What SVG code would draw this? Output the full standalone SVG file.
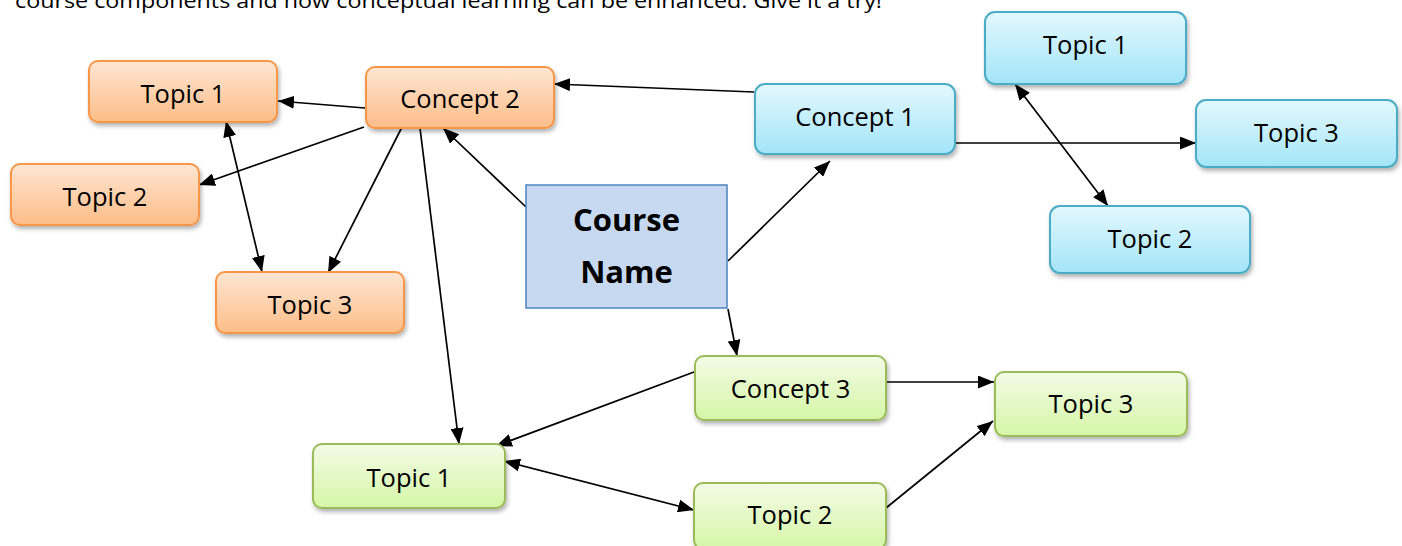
<svg xmlns="http://www.w3.org/2000/svg" width="1402" height="546" viewBox="0 0 1402 546">
<defs>
<style>
.lbl{font-family:"Open Sans","Liberation Sans",sans-serif;font-size:25.5px;fill:#000;text-anchor:middle}
.big{font-family:"Open Sans","Liberation Sans",sans-serif;font-size:31px;font-weight:bold;fill:#000;text-anchor:middle}
.top{font-family:"Open Sans","Liberation Sans",sans-serif;font-size:20px;fill:#000}
.or{fill:url(#gOr);stroke:#f79646;stroke-width:2;filter:url(#sh)}
.bl{fill:url(#gBl);stroke:#4bacc6;stroke-width:2;filter:url(#sh)}
.gr{fill:url(#gGr);stroke:#9bbb59;stroke-width:2;filter:url(#sh)}
.ln{stroke:#000;stroke-width:1.7;fill:none;marker-end:url(#ah)}
.dl{stroke:#000;stroke-width:1.7;fill:none;marker-end:url(#ah);marker-start:url(#ah)}
</style>
<linearGradient id="gOr" x1="0" y1="0" x2="0" y2="1"><stop offset="0" stop-color="#ffe6d3"/><stop offset="1" stop-color="#fdbd88"/></linearGradient>
<linearGradient id="gBl" x1="0" y1="0" x2="0" y2="1"><stop offset="0" stop-color="#e3f8fe"/><stop offset="1" stop-color="#a3e5f8"/></linearGradient>
<linearGradient id="gGr" x1="0" y1="0" x2="0" y2="1"><stop offset="0" stop-color="#f3fbe6"/><stop offset="1" stop-color="#d5f6a6"/></linearGradient>
<filter id="sh" x="-10%" y="-20%" width="125%" height="150%"><feDropShadow dx="1.5" dy="3" stdDeviation="2" flood-color="#000" flood-opacity="0.3"/></filter>
<marker id="ah" markerUnits="userSpaceOnUse" markerWidth="17" markerHeight="13" refX="16" refY="6.5" orient="auto-start-reverse" viewBox="0 0 17 13"><path d="M0,0 L16,6.5 L0,13 Z" fill="#000"/></marker>
</defs>
<rect width="1402" height="546" fill="#fff"/>
<text class="top" x="15" y="8" textLength="867" lengthAdjust="spacingAndGlyphs">course components and how conceptual learning can be enhanced. Give it a try!</text>
<g id="connectors">
<line class="ln" x1="754" y1="92" x2="554" y2="84"/>
<line class="ln" x1="365" y1="108" x2="278" y2="101"/>
<line class="ln" x1="364" y1="127" x2="199" y2="185"/>
<line class="ln" x1="402" y1="127" x2="328" y2="273"/>
<line class="dl" x1="226" y1="121" x2="262" y2="272"/>
<line class="ln" x1="420" y1="128" x2="459" y2="444"/>
<line class="ln" x1="526" y1="207" x2="443" y2="128"/>
<line class="ln" x1="728" y1="261" x2="830" y2="161"/>
<line class="ln" x1="728" y1="309" x2="737" y2="356"/>
<line class="ln" x1="955" y1="143" x2="1196" y2="143"/>
<line class="dl" x1="1015" y1="84" x2="1108" y2="206"/>
<line class="ln" x1="694" y1="372" x2="496" y2="446"/>
<line class="ln" x1="886" y1="382" x2="994" y2="382"/>
<line class="dl" x1="504" y1="461" x2="694" y2="510"/>
<line class="ln" x1="886" y1="508" x2="993" y2="421"/>
</g>
<g id="course"><rect x="526" y="185" width="201" height="123" fill="#c6d9f1" stroke="#4f81bd" stroke-width="1.5"/><text class="big" x="626.5" y="231">Course</text><text class="big" x="626.5" y="283">Name</text></g>
<g id="o_concept2"><rect class="or" x="366" y="67" width="188" height="61" rx="9"/><text class="lbl" x="460" y="108">Concept 2</text></g>
<g id="o_topic1"><rect class="or" x="89" y="61" width="188" height="61" rx="9"/><text class="lbl" x="183" y="103">Topic 1</text></g>
<g id="o_topic2"><rect class="or" x="11" y="164" width="188" height="61" rx="9"/><text class="lbl" x="105" y="206">Topic 2</text></g>
<g id="o_topic3"><rect class="or" x="216" y="272" width="188" height="61" rx="9"/><text class="lbl" x="310" y="314">Topic 3</text></g>
<g id="b_concept1"><rect class="bl" x="755" y="84" width="200" height="70" rx="10"/><text class="lbl" x="855" y="126">Concept 1</text></g>
<g id="b_topic1"><rect class="bl" x="985" y="12" width="201" height="72" rx="10"/><text class="lbl" x="1085.5" y="54">Topic 1</text></g>
<g id="b_topic3"><rect class="bl" x="1196" y="100" width="201" height="67" rx="10"/><text class="lbl" x="1296.5" y="142">Topic 3</text></g>
<g id="b_topic2"><rect class="bl" x="1050" y="206" width="200" height="67" rx="10"/><text class="lbl" x="1150" y="248">Topic 2</text></g>
<g id="g_concept3"><rect class="gr" x="695" y="356" width="191" height="64" rx="9"/><text class="lbl" x="790.5" y="398">Concept 3</text></g>
<g id="g_topic3"><rect class="gr" x="995" y="372" width="192" height="64" rx="9"/><text class="lbl" x="1091" y="413">Topic 3</text></g>
<g id="g_topic1"><rect class="gr" x="313" y="444" width="192" height="64" rx="9"/><text class="lbl" x="409" y="487">Topic 1</text></g>
<g id="g_topic2"><rect class="gr" x="694" y="483" width="192" height="66" rx="9"/><text class="lbl" x="790" y="524">Topic 2</text></g>
</svg>
